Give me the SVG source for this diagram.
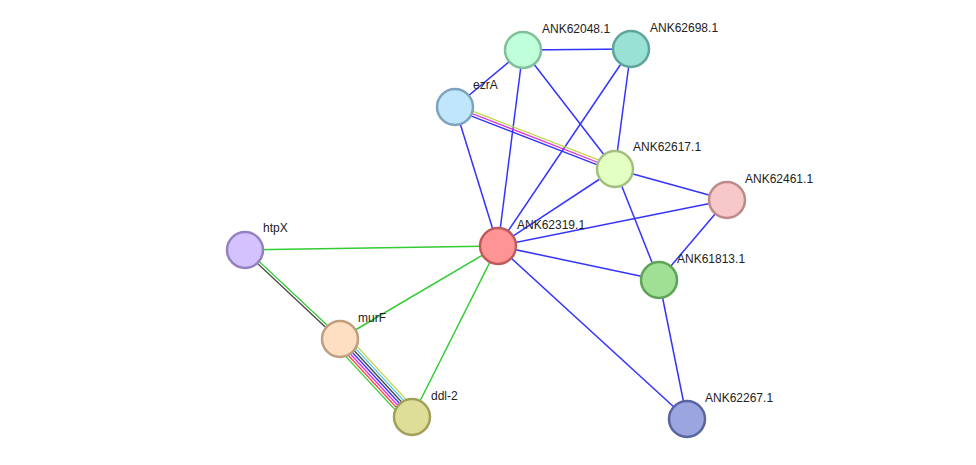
<svg xmlns="http://www.w3.org/2000/svg" width="976" height="465" viewBox="0 0 976 465">
<style>
.e{stroke-width:1.5;fill:none}
.ml{stroke-width:1.3}
.b{stroke:#3333ff}
.g{stroke:#33cc33}
.k{stroke:#444444}
.y{stroke:#c3d443}
.m{stroke:#dd33dd}
.c{stroke:#44c8e8}
.r{stroke:#ff3333}
.n{stroke-width:2.5}
.t{font-family:"Liberation Sans",Arial,sans-serif;font-size:12px;fill:#222}
</style>
<rect width="976" height="465" fill="#ffffff"/>
<g id="connectors">
<line class="e b" x1="523" y1="50" x2="631" y2="49"/>
<line class="e b" x1="523" y1="50" x2="455" y2="107"/>
<line class="e b" x1="523" y1="50" x2="498" y2="246"/>
<line class="e b" x1="523" y1="50" x2="615" y2="169"/>
<line class="e b" x1="631" y1="49" x2="615" y2="169"/>
<line class="e b" x1="631" y1="49" x2="498" y2="246"/>
<line class="e b" x1="455" y1="107" x2="498" y2="246"/>
<line class="e ml y" x1="455.90" y1="104.67" x2="615.90" y2="166.67"/>
<line class="e ml m" x1="455" y1="107" x2="615" y2="169"/>
<line class="e ml b" x1="454.10" y1="109.33" x2="614.10" y2="171.33"/>
<line class="e b" x1="615" y1="169" x2="498" y2="246"/>
<line class="e b" x1="615" y1="169" x2="727" y2="200"/>
<line class="e b" x1="615" y1="169" x2="659" y2="280"/>
<line class="e b" x1="727" y1="200" x2="498" y2="246"/>
<line class="e b" x1="727" y1="200" x2="659" y2="280"/>
<line class="e b" x1="498" y1="246" x2="659" y2="280"/>
<line class="e b" x1="498" y1="246" x2="687" y2="419"/>
<line class="e b" x1="659" y1="280" x2="687" y2="419"/>
<line class="e g" x1="498" y1="246" x2="245" y2="250"/>
<line class="e g" x1="498" y1="246" x2="340" y2="339"/>
<line class="e g" x1="498" y1="246" x2="412" y2="417"/>
<line class="e ml g" x1="245.86" y1="249.09" x2="340.86" y2="338.09"/>
<line class="e ml k" x1="244.14" y1="250.91" x2="339.14" y2="339.91"/>
<line class="e ml y" x1="345.52" y1="333.91" x2="417.52" y2="411.91"/>
<line class="e ml c" x1="343.68" y1="335.60" x2="415.68" y2="413.60"/>
<line class="e ml k" x1="341.84" y1="337.30" x2="413.84" y2="415.30"/>
<line class="e ml b" x1="340" y1="339" x2="412" y2="417"/>
<line class="e ml m" x1="338.16" y1="340.70" x2="410.16" y2="418.70"/>
<line class="e ml r" x1="336.32" y1="342.40" x2="408.32" y2="420.40"/>
<line class="e ml g" x1="334.48" y1="344.09" x2="406.48" y2="422.09"/>
</g>
<g id="ANK62048.1"><circle class="n" cx="523" cy="50" r="18" fill="#bfffd9" stroke="#7fbf99"/><text class="t" x="542" y="33">ANK62048.1</text></g>
<g id="ANK62698.1"><circle class="n" cx="631" cy="49" r="18" fill="#99e0d5" stroke="#5fa39a"/><text class="t" x="650" y="32">ANK62698.1</text></g>
<g id="ezrA"><circle class="n" cx="455" cy="107" r="18" fill="#bfe6fa" stroke="#7fa3bf"/><text class="t" x="473" y="89">ezrA</text></g>
<g id="ANK62617.1"><circle class="n" cx="615" cy="169" r="18" fill="#e3ffc2" stroke="#a3bf80"/><text class="t" x="633" y="151">ANK62617.1</text></g>
<g id="ANK62461.1"><circle class="n" cx="727" cy="200" r="18" fill="#f7c8c8" stroke="#bf8a8a"/><text class="t" x="745" y="183">ANK62461.1</text></g>
<g id="ANK62319.1"><circle class="n" cx="498" cy="246" r="18" fill="#ff9494" stroke="#c05a5a"/><text class="t" x="517" y="229">ANK62319.1</text></g>
<g id="htpX"><circle class="n" cx="245" cy="250" r="18" fill="#d4c2ff" stroke="#9580c0"/><text class="t" x="263" y="232">htpX</text></g>
<g id="ANK61813.1"><circle class="n" cx="659" cy="280" r="18" fill="#9fe095" stroke="#5fa355"/><text class="t" x="677" y="263">ANK61813.1</text></g>
<g id="murF"><circle class="n" cx="340" cy="339" r="18" fill="#ffdfc2" stroke="#bf9f80"/><text class="t" x="358" y="322">murF</text></g>
<g id="ddl-2"><circle class="n" cx="412" cy="417" r="18" fill="#dede99" stroke="#a0a05a"/><text class="t" x="431" y="400">ddl-2</text></g>
<g id="ANK62267.1"><circle class="n" cx="687" cy="419" r="18" fill="#9ba6e0" stroke="#5a64a0"/><text class="t" x="705" y="402">ANK62267.1</text></g>
</svg>
